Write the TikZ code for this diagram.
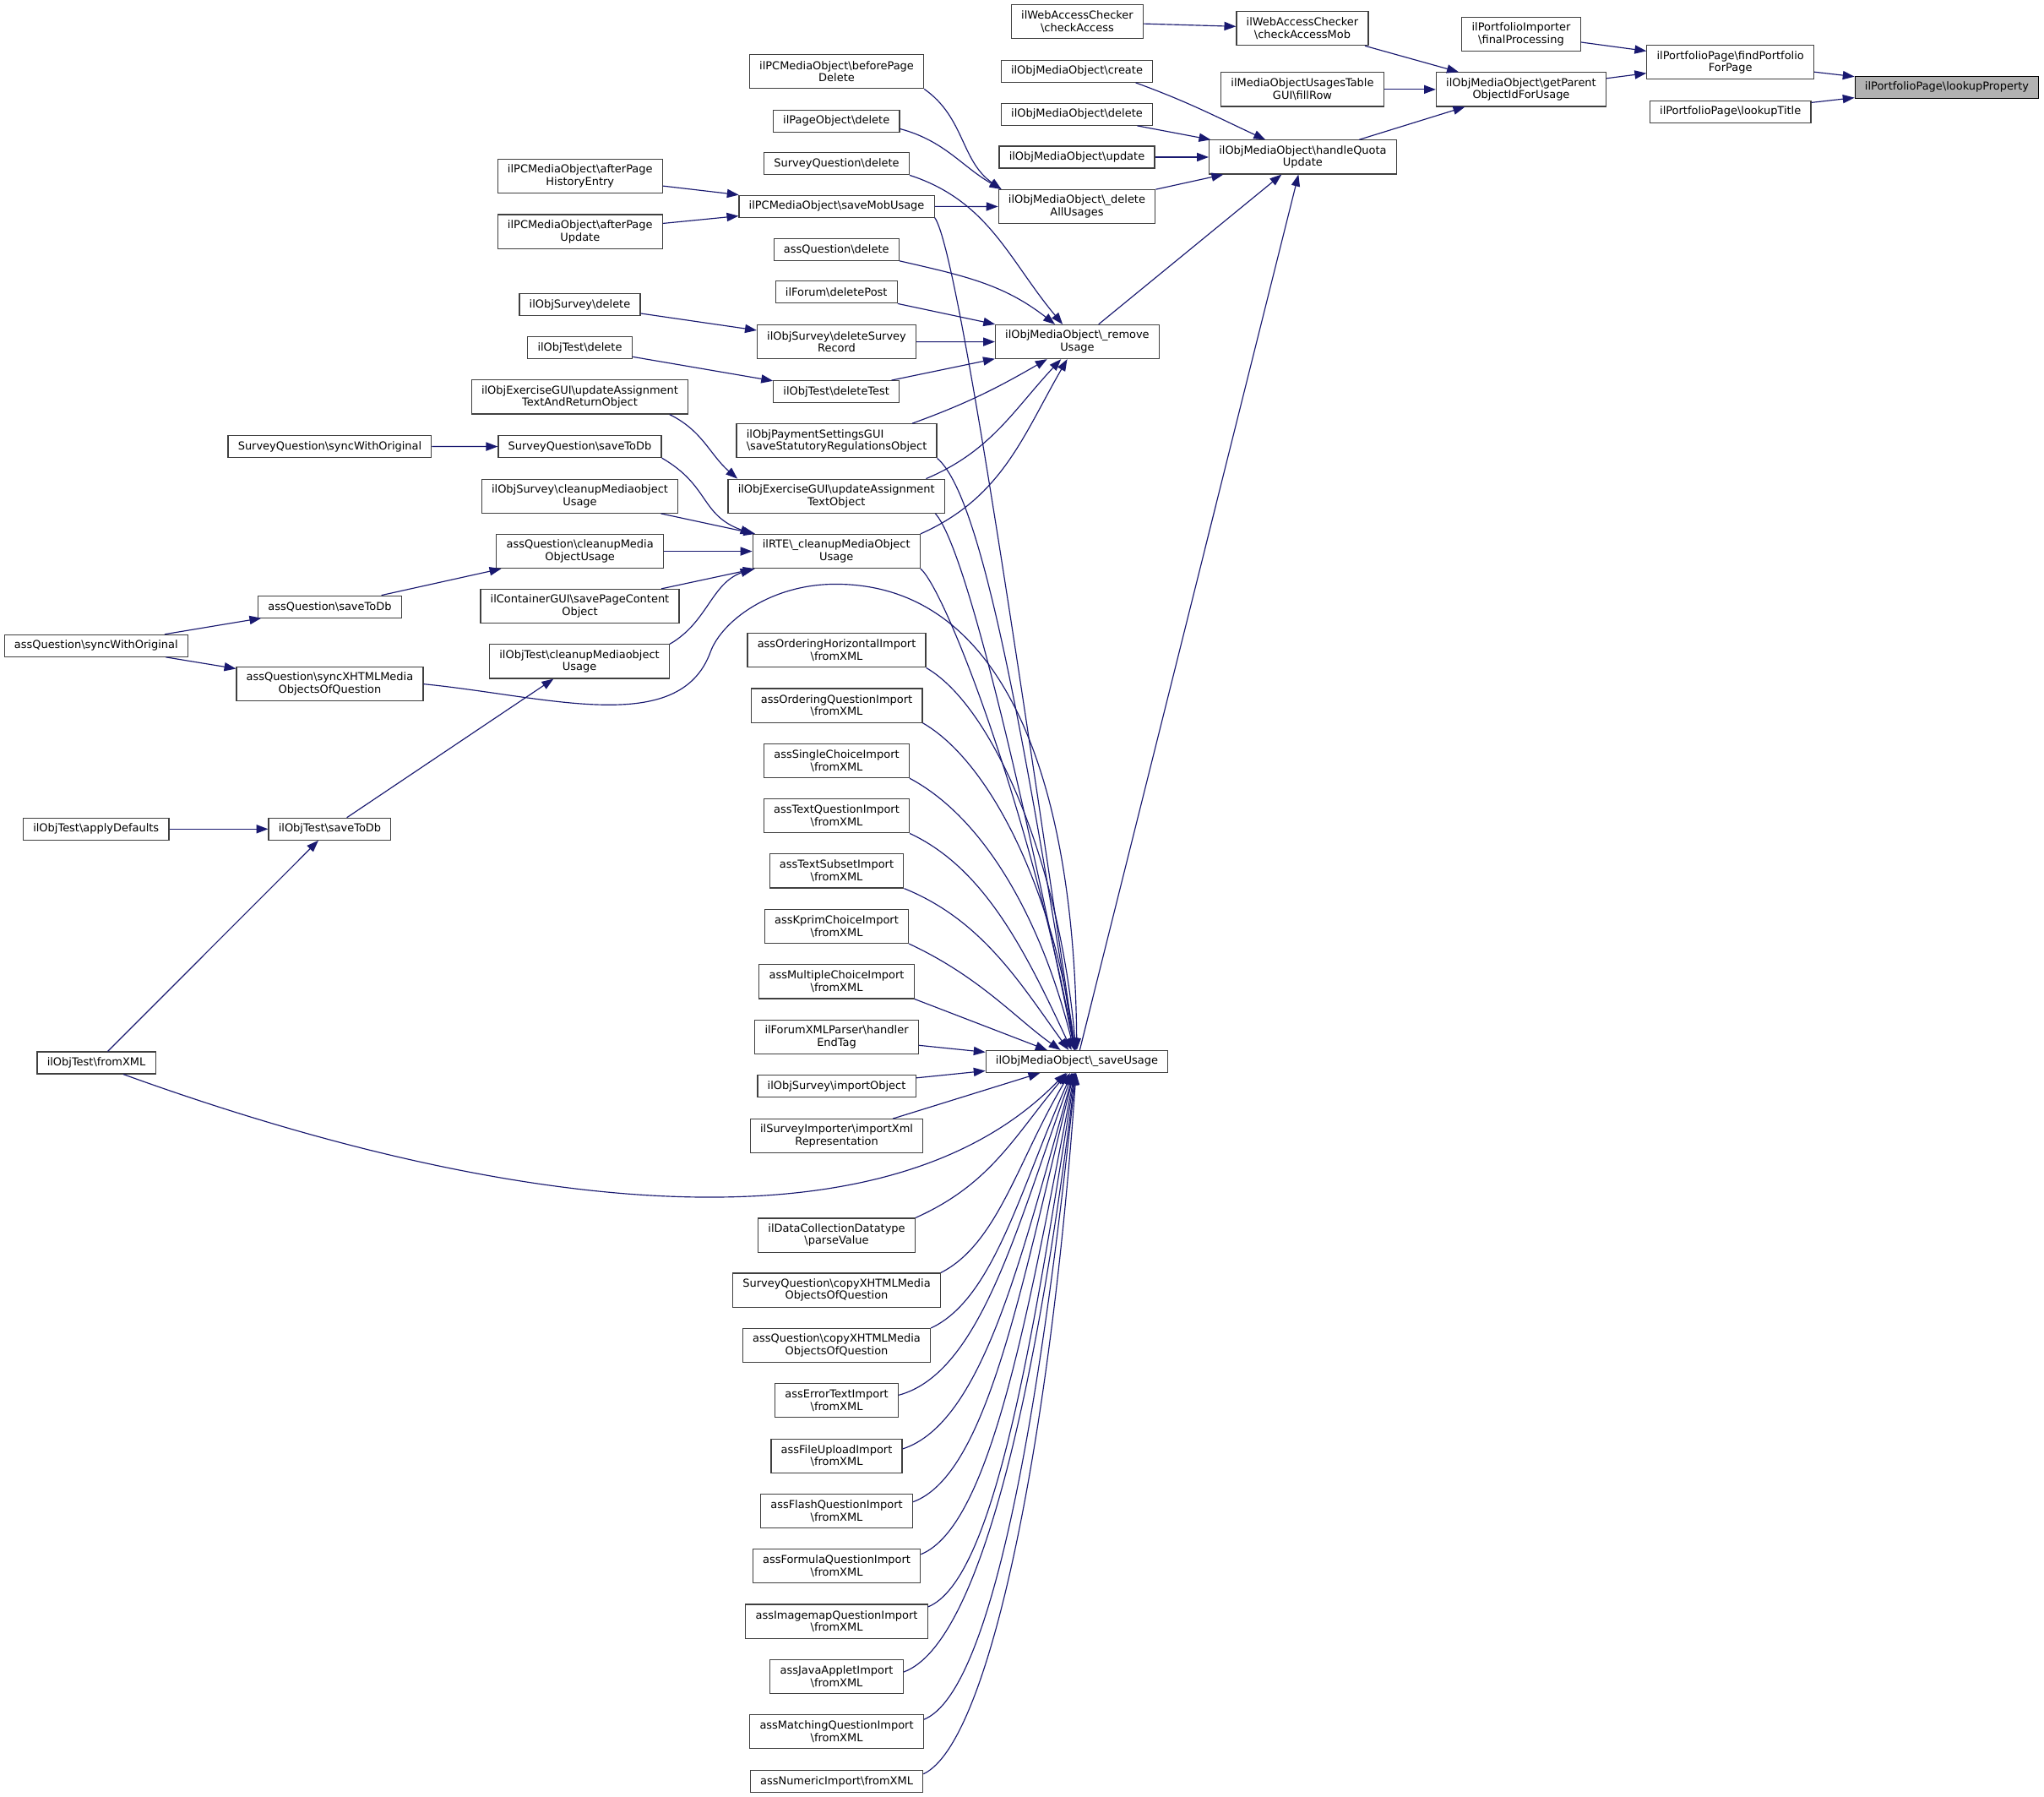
\documentclass[tikz,border=0pt]{standalone}
\usepackage{fontspec}
\setmainfont{DejaVu Sans}
\usetikzlibrary{arrows.meta}
\definecolor{edgeblue}{HTML}{191970}
\newcommand{\bsl}{\textbackslash}
\newcommand{\nodefont}{\fontsize{8.4}{9.5}\selectfont}

\begin{document}
\begin{tikzpicture}[x=1pt,y=1pt,
    fn/.style={draw=black!75, line width=0.75pt, fill=white, inner xsep=7.6pt, inner ysep=1pt,
      minimum height=16.8pt, font=\nodefont, align=center},
    fn2/.style={fn, minimum height=26pt},
    root/.style={fn, fill=black!30, draw=black},
    call/.style={draw=edgeblue, line width=0.75pt, -{Triangle[length=9pt,width=6.6pt]}}]

  % page
  \fill[white] (0,0) rectangle (1568,-1378);

  % the function and its direct callers
  \node[root] (lp) at (1493.5,-66.9) {ilPortfolioPage\bsl lookupProperty};
  \node[fn2] (fpp) at (1327.4,-47.8) {ilPortfolioPage\bsl findPortfolio\\ForPage};
  \node[fn] (lt) at (1327.4,-85.7) {ilPortfolioPage\bsl lookupTitle};
  \node[fn2] (fp) at (1166.9,-26.2) {ilPortfolioImporter\\\bsl finalProcessing};
  \node[fn2] (gp) at (1166.9,-68.6) {ilObjMediaObject\bsl getParent\\ObjectIdForUsage};
  \node[fn2] (cam) at (999.1,-21.8) {ilWebAccessChecker\\\bsl checkAccessMob};
  \node[fn2] (fr) at (999.1,-68.6) {ilMediaObjectUsagesTable\\GUI\bsl fillRow};
  \node[fn2] (hqu) at (999.4,-120.5) {ilObjMediaObject\bsl handleQuota\\Update};

  % media object column
  \node[fn2] (ca) at (826.4,-16.7) {ilWebAccessChecker\\\bsl checkAccess};
  \node[fn] (cr) at (826.1,-54.7) {ilObjMediaObject\bsl create};
  \node[fn] (mdel) at (826.1,-87.7) {ilObjMediaObject\bsl delete};
  \node[fn] (upd) at (826.1,-120.5) {ilObjMediaObject\bsl update};
  \node[fn2] (dau) at (826.1,-158.5) {ilObjMediaObject\bsl\_delete\\AllUsages};
  \node[fn2] (ru) at (826.4,-262.1) {ilObjMediaObject\bsl\_remove\\Usage};
  \node[fn] (su) at (826.1,-814.1) {ilObjMediaObject\bsl\_saveUsage};

  % second column
  \node[fn2] (bpd) at (641.8,-54.9) {ilPCMediaObject\bsl beforePage\\Delete};
  \node[fn] (pod) at (641.6,-92.8) {ilPageObject\bsl delete};
  \node[fn] (sqd) at (641.8,-125.6) {SurveyQuestion\bsl delete};
  \node[fn] (smu) at (641.8,-158.2) {ilPCMediaObject\bsl saveMobUsage};
  \node[fn] (aqd) at (641.6,-191.3) {assQuestion\bsl delete};
  \node[fn] (fdp) at (641.6,-224.1) {ilForum\bsl deletePost};
  \node[fn2] (dsr) at (641.8,-262.2) {ilObjSurvey\bsl deleteSurvey\\Record};
  \node[fn] (dt) at (641.6,-300.4) {ilObjTest\bsl deleteTest};
  \node[fn2, align=left] (pay) at (641.8,-338.1) {ilObjPaymentSettingsGUI\\\bsl saveStatutoryRegulationsObject};
  \node[fn2] (uato) at (641.6,-380.5) {ilObjExerciseGUI\bsl updateAssignment\\TextObject};
  \node[fn2] (rte) at (641.6,-422.8) {ilRTE\bsl\_cleanupMediaObject\\Usage};

  % import column
  \node[fn2] (aohi) at (641.8,-498.8) {assOrderingHorizontalImport\\\bsl fromXML};
  \node[fn2] (aoqi) at (641.8,-541.1) {assOrderingQuestionImport\\\bsl fromXML};
  \node[fn2] (asci) at (641.8,-583.5) {assSingleChoiceImport\\\bsl fromXML};
  \node[fn2] (atqi) at (641.8,-625.8) {assTextQuestionImport\\\bsl fromXML};
  \node[fn2] (atsi) at (641.8,-668.0) {assTextSubsetImport\\\bsl fromXML};
  \node[fn2] (akci) at (641.8,-710.4) {assKprimChoiceImport\\\bsl fromXML};
  \node[fn2] (amci) at (641.8,-752.8) {assMultipleChoiceImport\\\bsl fromXML};
  \node[fn2] (ifx) at (641.8,-795.2) {ilForumXMLParser\bsl handler\\EndTag};
  \node[fn] (osio) at (641.8,-832.9) {ilObjSurvey\bsl importObject};
  \node[fn2] (sixr) at (641.8,-871.3) {ilSurveyImporter\bsl importXml\\Representation};
  \node[fn2] (dcd) at (641.8,-947.3) {ilDataCollectionDatatype\\\bsl parseValue};
  \node[fn2] (sqc) at (641.8,-989.4) {SurveyQuestion\bsl copyXHTMLMedia\\ObjectsOfQuestion};
  \node[fn2] (aqc) at (641.8,-1031.9) {assQuestion\bsl copyXHTMLMedia\\ObjectsOfQuestion};
  \node[fn2] (aeti) at (641.8,-1074.1) {assErrorTextImport\\\bsl fromXML};
  \node[fn2] (afui) at (641.8,-1116.5) {assFileUploadImport\\\bsl fromXML};
  \node[fn2] (afqi) at (641.8,-1159.0) {assFlashQuestionImport\\\bsl fromXML};
  \node[fn2] (afmi) at (641.8,-1201.1) {assFormulaQuestionImport\\\bsl fromXML};
  \node[fn2] (aimi) at (641.8,-1243.4) {assImagemapQuestionImport\\\bsl fromXML};
  \node[fn2] (ajai) at (641.8,-1285.9) {assJavaAppletImport\\\bsl fromXML};
  \node[fn2] (amqi) at (641.8,-1328.1) {assMatchingQuestionImport\\\bsl fromXML};
  \node[fn] (ani) at (641.8,-1366.3) {assNumericImport\bsl fromXML};

  % third column
  \node[fn2] (aphe) at (445,-135.2) {ilPCMediaObject\bsl afterPage\\HistoryEntry};
  \node[fn2] (apu) at (445,-177.6) {ilPCMediaObject\bsl afterPage\\Update};
  \node[fn] (osd) at (444.8,-233.6) {ilObjSurvey\bsl delete};
  \node[fn] (otd) at (444.8,-266.7) {ilObjTest\bsl delete};
  \node[fn2] (uarto) at (444.8,-304.5) {ilObjExerciseGUI\bsl updateAssignment\\TextAndReturnObject};
  \node[fn] (sqs) at (444.8,-342.5) {SurveyQuestion\bsl saveToDb};
  \node[fn2] (oscu) at (444.8,-380.5) {ilObjSurvey\bsl cleanupMediaobject\\Usage};
  \node[fn2] (aqcu) at (444.9,-422.8) {assQuestion\bsl cleanupMedia\\ObjectUsage};
  \node[fn2] (icg) at (444.8,-464.9) {ilContainerGUI\bsl savePageContent\\Object};
  \node[fn2] (otcu) at (444.5,-507.3) {ilObjTest\bsl cleanupMediaobject\\Usage};

  % left columns
  \node[fn] (sqsw) at (253,-342.4) {SurveyQuestion\bsl syncWithOriginal};
  \node[fn] (aqs) at (253,-465.3) {assQuestion\bsl saveToDb};
  \node[fn2] (sxm) at (253,-524.6) {assQuestion\bsl syncXHTMLMedia\\ObjectsOfQuestion};
  \node[fn] (ots) at (253,-635.8) {ilObjTest\bsl saveToDb};
  \node[fn] (aqsw) at (73.7,-495.2) {assQuestion\bsl syncWithOriginal};
  \node[fn] (otad) at (73.7,-635.8) {ilObjTest\bsl applyDefaults};
  \node[fn] (otx) at (73.9,-815.1) {ilObjTest\bsl fromXML};

  % calls on the right
  \draw[call] (fpp) -- (lp);
  \draw[call] (lt) -- (lp);
  \draw[call] (fp) -- (fpp);
  \draw[call] (gp) -- (fpp);
  \draw[call] (cam) -- (gp);
  \draw[call] (ca) -- (cam);
  \draw[call] (fr) -- (gp);
  \draw[call] (hqu) -- (gp);
  \draw[call] (cr.-11) to[out=-20,in=155] (hqu);
  \draw[call] (mdel) -- (hqu);
  \draw[call] (upd) -- (hqu);
  \draw[call] (dau) -- (hqu);
  \draw[call] (ru) -- (hqu);
  \draw[call] (su) -- (hqu);

  % _deleteAllUsages
  \draw[call] (bpd.south east) to[out=-35,in=145] (dau.167);
  \draw[call] (pod.-7) to[out=-15,in=150] (dau.167);
  \draw[call] (smu) -- (dau);

  % _removeUsage
  \draw[call] (sqd.south east) to[out=-18,in=130] (ru);
  \draw[call] (aqd.south east) to[out=-13,in=142] (ru);
  \draw[call] (fdp.south east) -- (ru);
  \draw[call] (dsr) -- (ru);
  \draw[call] (dt) -- (ru);
  \draw[call] (pay.13) to[out=20,in=-150] (ru);
  \draw[call] (uato.11) to[out=23,in=-133] (ru);
  \draw[call] (rte.north east) to[out=24,in=-120] (ru);

  % middle calls
  \draw[call] (aphe) -- (smu);
  \draw[call] (apu) -- (smu);
  \draw[call] (osd) -- (dsr);
  \draw[call] (otd) -- (dt);
  \draw[call] (uarto.-11) to[out=-26,in=139] (uato.170);
  \draw[call] (sqsw) -- (sqs);
  \draw[call] (sqs.south east) to[out=-30,in=160,looseness=1.2] (rte.north west);
  \draw[call] (oscu) -- (rte);
  \draw[call] (aqcu) -- (rte);
  \draw[call] (icg) -- (rte);
  \draw[call] (otcu.north east) to[out=30,in=-160] (rte.south west);
  \draw[call] (aqs) -- (aqcu);
  \draw[call] (aqsw) -- (aqs);
  \draw[call] (aqsw) -- (sxm);
  \draw[call] (ots) -- (otcu);
  \draw[call] (otad) -- (ots);
  \draw[call] (otx) -- (ots);

  % _saveUsage, long ones
  \draw[call] (smu.south east) .. controls (734.5,-191) and (781,-509) .. (su);
  \draw[call] (pay.south east) .. controls (752.9,-380) and (784.4,-558.5) .. (su);
  \draw[call] (uato.-10) .. controls (740,-418) and (783,-600) .. (su);
  \draw[call] (rte.south east) .. controls (725,-452) and (790,-620) .. (su);
  \draw[call] (sxm.east) .. controls (420,-534) and (521,-565.8) .. (545,-500)
    .. controls (553.6,-476.5) and (591,-448) .. (641,-448)
    .. controls (771,-448) and (824,-600) .. (su);
  \draw[call] (otx.-23) .. controls (376,-926) and (676,-969) .. (su);

  % _saveUsage, from above
  \draw[call] (aohi.south east) to[out=-30,in=95,out distance=58pt,in distance=147pt] (su);
  \draw[call] (aoqi.south east) to[out=-30,in=98,out distance=59pt,in distance=126pt] (su);
  \draw[call] (asci.south east) to[out=-28,in=104,out distance=64pt,in distance=105pt] (su);
  \draw[call] (atqi.south east) to[out=-25,in=115,out distance=63pt,in distance=84pt] (su);
  \draw[call] (atsi.south east) to[out=-22,in=126,out distance=65pt,in distance=62pt] (su);
  \draw[call] (akci.south east) to[out=-25,in=145,out distance=60pt,in distance=41pt] (su);
  \draw[call] (amci.south east) -- (su);
  \draw[call] (ifx) -- (su);
  \draw[call] (osio) -- (su);
  \draw[call] (sixr) -- (su);

  % _saveUsage, from below
  \draw[call] (dcd.north east) to[out=24,in=-130] (su);
  \draw[call] (sqc.north east) to[out=27,in=-121,out distance=49pt,in distance=77pt] (su);
  \draw[call] (aqc.north east) to[out=25,in=-114,out distance=53pt,in distance=98pt] (su);
  \draw[call] (aeti.5) to[out=15,in=-110,out distance=65pt,in distance=124pt] (su);
  \draw[call] (afui.6) to[out=18,in=-106,out distance=65pt,in distance=145pt] (su);
  \draw[call] (afqi.7) to[out=20,in=-104,out distance=61pt,in distance=165pt] (su);
  \draw[call] (afmi.8) to[out=22,in=-101,out distance=58pt,in distance=185pt] (su);
  \draw[call] (aimi.9) to[out=22,in=-99,out distance=55pt,in distance=205pt] (su);
  \draw[call] (ajai.4) to[out=20,in=-97,out distance=65pt,in distance=230pt] (su);
  \draw[call] (amqi.8) to[out=22,in=-96,out distance=58pt,in distance=248pt] (su);
  \draw[call] (ani.5) to[out=25,in=-94,out distance=58pt,in distance=269pt] (su);

\end{tikzpicture}
\end{document}
